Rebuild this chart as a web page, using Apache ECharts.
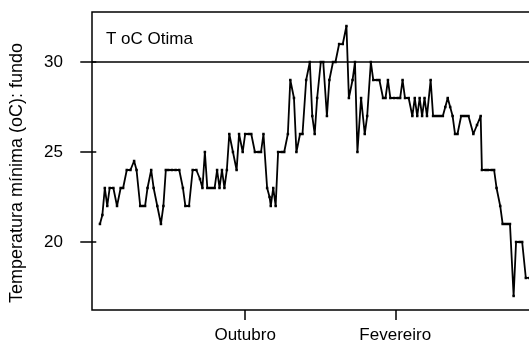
<!DOCTYPE html>
<html>
<head>
<meta charset="utf-8">
<script src="https://cdn.jsdelivr.net/npm/echarts@6/dist/echarts.min.js"></script>
<style>
  html, body { margin: 0; padding: 0; background: #fff; }
  #chart { width: 529px; height: 343px; }
</style>
</head>
<body>
<div id="chart"></div>
<script>
// Day of season, counted from 1 June (1 Oct = 122, 1 Feb = 245)
const dias = [
  3, 5, 7, 9, 11, 14, 17, 20, 22, 25, 28, 31, 33, 36, 38, 40, 42, 45, 47, 50,
  53, 55, 57, 59, 62, 65, 68, 71, 73, 76, 79, 82, 85, 87, 89, 91, 93, 95, 97, 99,
  101, 103, 105, 107, 109, 112, 115, 117, 120, 122, 125, 127, 130, 133, 135, 137, 140, 142, 143, 145,
  147, 149, 152, 154, 157, 159, 162, 164, 167, 169, 172, 175, 177, 179, 181, 184, 186, 189, 191, 194,
  196, 199, 202, 205, 207, 210, 212, 214, 217, 220, 222, 225, 227, 230, 232, 235, 237, 239, 241, 244,
  247, 249, 251, 253, 256, 259, 261, 263, 265, 267, 269, 271, 274, 276, 278, 280, 282, 284, 286, 288,
  290, 292, 294, 296, 299, 301, 303, 305, 309, 312, 315, 316, 319, 321, 324, 326, 328, 331, 333, 335,
  337, 339, 342, 344, 347, 349, 352, 355, 357
];

// Minimum water temperature at the bottom (oC)
const tempMin = [
  21, 21.5, 23, 22, 23, 23, 22, 23, 23, 24, 24, 24.5, 24, 22, 22, 22, 23, 24, 23, 22,
  21, 22, 24, 24, 24, 24, 24, 23, 22, 22, 24, 24, 23.5, 23, 25, 23, 23, 23, 23, 24,
  23, 24, 23, 24, 26, 25, 24, 26, 25, 26, 26, 26, 25, 25, 25, 26, 23, 22.5, 22, 23,
  22, 25, 25, 25, 26, 29, 28, 25, 26, 26, 29, 30, 27, 26, 28, 30, 30, 27, 29, 30,
  30, 31, 31, 32, 28, 29, 30, 25, 28, 26, 27, 30, 29, 29, 29, 28, 28, 29, 28, 28,
  28, 28, 29, 28, 28, 27, 28, 27, 28, 27, 28, 27, 29, 27, 27, 27, 27, 27, 27.5, 28,
  27.5, 27, 26, 26, 27, 27, 27, 27, 26, 26.5, 27, 24, 24, 24, 24, 24, 23, 22, 21, 21,
  21, 21, 17, 20, 20, 20, 18, 18, 18
];

// Reference optimum temperature
const tempOtima = 30;
const rotuloOtima = 'T oC Otima';

// Month ticks on the time axis
const diasMes = [122, 245];
const nomesMes = ['Outubro', 'Fevereiro'];

// Y axis ticks
const ticksY = [20, 25, 30];
const tituloY = 'Temperatura mínima (oC): fundo';

const serie = dias.map((d, i) => [d, tempMin[i]]);
const FONT = '"Liberation Sans", Arial, sans-serif';

const chart = echarts.init(document.getElementById('chart'), null, { renderer: 'canvas' });
chart.setOption({
  animation: false,
  backgroundColor: '#ffffff',
  title: {
    text: rotuloOtima,
    left: 106,
    top: 31,
    padding: 0,
    textStyle: { fontFamily: FONT, fontSize: 17, fontWeight: 'normal', color: '#000' }
  },
  grid: {
    left: 92,
    top: 12,
    width: 468,
    height: 298,
    containLabel: false,
    outerBoundsMode: 'none',
    show: true,
    borderColor: '#000',
    borderWidth: 1.5,
    backgroundColor: 'transparent'
  },
  xAxis: {
    type: 'value',
    min: -3.5,
    max: 380,
    axisLine: { show: false },
    splitLine: { show: false },
    axisTick: {
      show: true,
      customValues: diasMes,
      length: 10,
      lineStyle: { color: '#000', width: 1.5 }
    },
    axisLabel: {
      customValues: diasMes,
      margin: 17,
      color: '#000',
      fontFamily: FONT,
      fontSize: 17,
      formatter: v => nomesMes[diasMes.indexOf(v)]
    }
  },
  yAxis: {
    type: 'value',
    min: 16.22,
    max: 32.78,
    name: tituloY,
    nameLocation: 'middle',
    nameGap: 66,
    nameTextStyle: { fontFamily: FONT, fontSize: 18, color: '#000', padding: [0, 24, 0, 0] },
    axisLine: { show: false },
    splitLine: { show: false },
    axisTick: {
      show: true,
      customValues: ticksY,
      length: 16,
      lineStyle: { color: '#000', width: 1.5 }
    },
    axisLabel: {
      customValues: ticksY,
      margin: 29,
      color: '#000',
      fontFamily: FONT,
      fontSize: 17
    }
  },
  series: [{
    type: 'line',
    data: serie,
    symbol: 'rect',
    symbolSize: 2.5,
    itemStyle: { color: '#000' },
    lineStyle: { color: '#000', width: 1.8 },
    markLine: {
      silent: true,
      symbol: ['none', 'none'],
      label: { show: false },
      lineStyle: { color: '#000', width: 1.5, type: 'solid' },
      data: [{ yAxis: tempOtima }]
    }
  }]
});
</script>
</body>
</html>
